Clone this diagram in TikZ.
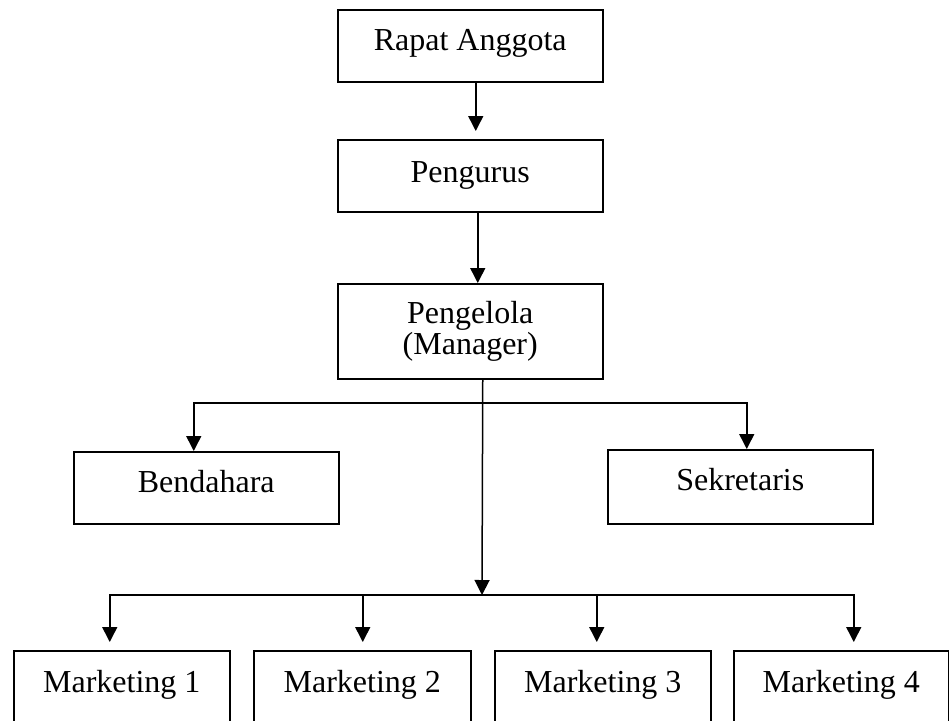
\documentclass[tikz,border=0pt]{standalone}
\usepackage{fontspec}
\setmainfont{Liberation Serif}
\usetikzlibrary{arrows.meta}
\begin{document}
\begin{tikzpicture}[x=1pt,y=-1pt,
  box/.style={draw, line width=1.5pt, rectangle, inner sep=0pt, anchor=north west,
    font=\fontsize{32}{30.5}\selectfont},
  arr/.style={line width=1.5pt, -{Triangle[length=15pt,width=15pt]}}]
\clip (0,0) rectangle (949,720);
% boxes
\node[box, minimum width=265pt, text height=41pt, text depth=31pt] (rapat) at (337,9) {Rapat Anggota};
\node[box, minimum width=265pt, text height=43pt, text depth=29pt] (pengurus) at (337,139) {Pengurus};
\node[box, minimum width=265pt, minimum height=95pt, align=center] (pengelola) at (337,283) {Pengelola\\(Manager)};
\node[box, minimum width=265pt, text height=41pt, text depth=31pt] (bend) at (73,451) {Bendahara};
\node[box, minimum width=265pt, text height=41pt, text depth=33pt] (sek) at (607,449) {Sekretaris};
\node[box, minimum width=216pt, text height=42pt, text depth=40pt] (m1) at (13,650) {Marketing 1};
\node[box, minimum width=217pt, text height=42pt, text depth=40pt] (m2) at (253,650) {Marketing 2};
\node[box, minimum width=216pt, text height=42pt, text depth=40pt] (m3) at (494,650) {Marketing 3};
\node[box, minimum width=215pt, text height=42pt, text depth=40pt] (m4) at (733,650) {Marketing 4};
% junctions
\coordinate (j1) at (482,403);
\coordinate (j2) at (482,595);
% connectors
\draw[arr, shorten >=8pt] ([xshift=5.5pt]rapat.south) -- ([xshift=5.5pt]pengurus.north);
\draw[arr] ([xshift=7.5pt]pengurus.south) -- ([xshift=7.5pt]pengelola.north);
\draw[arr] ([xshift=12.5pt]pengelola.south) -- (j2);
\draw[arr] (j1) -| ([xshift=-12.5pt]bend.north);
\draw[arr] (j1) -| ([xshift=6.5pt]sek.north);
\draw[arr, shorten >=8pt] (j2) -| ([xshift=-12pt]m1.north);
\draw[arr, shorten >=8pt] (j2) -| ([xshift=0.5pt]m2.north);
\draw[arr, shorten >=8pt] (j2) -| ([xshift=-6pt]m3.north);
\draw[arr, shorten >=8pt] (j2) -| ([xshift=12.5pt]m4.north);
\end{tikzpicture}
\end{document}
